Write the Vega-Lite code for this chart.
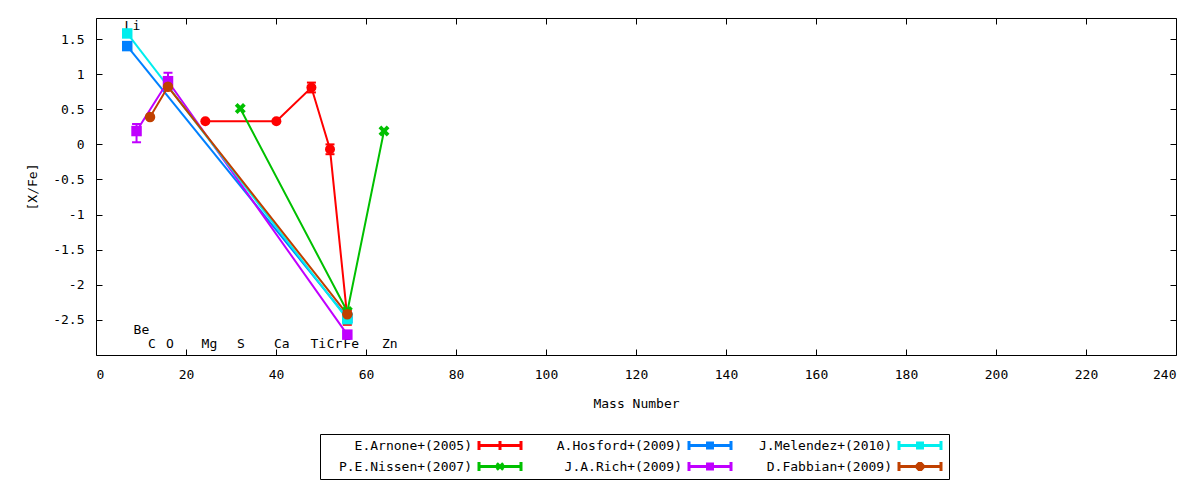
{
  "$schema": "https://vega.github.io/schema/vega-lite/v6.json",
  "width": 1080,
  "height": 337,
  "autosize": {"type": "none"},
  "padding": {"left": 96, "top": 18, "right": 24, "bottom": 125},
  "config": {
    "font": "DejaVu Sans Mono",
    "view": {"stroke": "black", "strokeWidth": 1},
    "axis": {
      "domain": false,
      "grid": false,
      "tickColor": "black",
      "tickSize": -6,
      "labelFont": "DejaVu Sans Mono",
      "labelFontSize": 13,
      "labelColor": "black",
      "titleFont": "DejaVu Sans Mono",
      "titleFontSize": 13,
      "titleFontWeight": "normal",
      "titleColor": "black"
    }
  },
  "datasets": {
    "abund": [
      {"s": "E.Arnone+(2005)", "m": 24.3, "v": 0.33},
      {"s": "E.Arnone+(2005)", "m": 40.08, "v": 0.33},
      {"s": "E.Arnone+(2005)", "m": 47.87, "v": 0.81, "lo": 0.74, "hi": 0.88},
      {"s": "E.Arnone+(2005)", "m": 52.0, "v": -0.07, "lo": -0.14, "hi": 0.0},
      {"s": "E.Arnone+(2005)", "m": 55.85, "v": -2.47, "lo": -2.57, "hi": -2.37},
      {"s": "P.E.Nissen+(2007)", "m": 32.06, "v": 0.51},
      {"s": "P.E.Nissen+(2007)", "m": 55.85, "v": -2.38},
      {"s": "P.E.Nissen+(2007)", "m": 64.0, "v": 0.19},
      {"s": "A.Hosford+(2009)", "m": 6.94, "v": 1.4},
      {"s": "A.Hosford+(2009)", "m": 55.85, "v": -2.47},
      {"s": "J.A.Rich+(2009)", "m": 9.01, "v": 0.19, "lo": 0.03, "hi": 0.29},
      {"s": "J.A.Rich+(2009)", "m": 16.0, "v": 0.9, "lo": 0.78, "hi": 1.02},
      {"s": "J.A.Rich+(2009)", "m": 55.85, "v": -2.71},
      {"s": "J.Melendez+(2010)", "m": 6.94, "v": 1.58},
      {"s": "J.Melendez+(2010)", "m": 55.85, "v": -2.49},
      {"s": "D.Fabbian+(2009)", "m": 12.01, "v": 0.39},
      {"s": "D.Fabbian+(2009)", "m": 16.0, "v": 0.82},
      {"s": "D.Fabbian+(2009)", "m": 55.85, "v": -2.42}
    ],
    "elem": [
      {"el": "Li", "x": 8.1, "y": 1.69},
      {"el": "Be", "x": 10.1, "y": -2.64},
      {"el": "C", "x": 12.4, "y": -2.84},
      {"el": "O", "x": 16.4, "y": -2.84},
      {"el": "Mg", "x": 25.2, "y": -2.84},
      {"el": "S", "x": 32.2, "y": -2.84},
      {"el": "Ca", "x": 41.3, "y": -2.84},
      {"el": "Ti", "x": 49.4, "y": -2.84},
      {"el": "Cr", "x": 53.0, "y": -2.84},
      {"el": "Fe", "x": 56.7, "y": -2.84},
      {"el": "Zn", "x": 65.3, "y": -2.84}
    ]
  },
  "layer": [
    {
      "data": {"name": "elem"},
      "mark": {"type": "text", "font": "DejaVu Sans Mono", "fontSize": 13, "color": "black", "align": "center", "baseline": "middle"},
      "encoding": {
        "x": {
          "field": "x", "type": "quantitative", "title": null,
          "scale": {"domain": [0, 240], "nice": false, "zero": false},
          "axis": {"orient": "top", "labels": false, "values": [0, 20, 40, 60, 80, 100, 120, 140, 160, 180, 200, 220, 240]}
        },
        "y": {
          "field": "y", "type": "quantitative", "title": null,
          "scale": {"domain": [-3, 1.8], "nice": false, "zero": false},
          "axis": {"orient": "right", "labels": false, "values": [-2.5, -2, -1.5, -1, -0.5, 0, 0.5, 1, 1.5]}
        },
        "text": {"field": "el"}
      }
    },
    {
      "data": {"name": "abund"},
      "mark": {"type": "line", "strokeWidth": 2},
      "encoding": {
        "x": {
          "field": "m", "type": "quantitative", "title": "Mass Number",
          "scale": {"domain": [0, 240], "nice": false, "zero": false},
          "axis": {"values": [0, 20, 40, 60, 80, 100, 120, 140, 160, 180, 200, 220, 240], "labelPadding": 19, "titlePadding": 16}
        },
        "y": {
          "field": "v", "type": "quantitative", "title": "[X/Fe]",
          "scale": {"domain": [-3, 1.8], "nice": false, "zero": false},
          "axis": {"values": [-2.5, -2, -1.5, -1, -0.5, 0, 0.5, 1, 1.5], "labelExpr": "'' + datum.value", "labelPadding": 18, "titlePadding": 13}
        },
        "color": {
          "field": "s", "type": "nominal",
          "scale": {
            "domain": ["E.Arnone+(2005)", "A.Hosford+(2009)", "J.Melendez+(2010)", "P.E.Nissen+(2007)", "J.A.Rich+(2009)", "D.Fabbian+(2009)"],
            "range": ["#ff0000", "#0080ff", "#00eeee", "#00c000", "#c000ff", "#c04000"]
          },
          "legend": {
            "title": null,
            "orient": "none",
            "legendX": 224,
            "legendY": 416,
            "columns": 3,
            "direction": "horizontal",
            "strokeColor": "black",
            "padding": 2,
            "cornerRadius": 0,
            "labelFont": "DejaVu Sans Mono",
            "labelFontSize": 13,
            "labelColor": "black",
            "labelAlign": "right",
            "labelOffset": -37.5,
            "symbolOffset": 168.5,
            "symbolType": "M-2.625,0H2.625M-2.625,-0.56V0.56M2.625,-0.56V0.56M-0.31,-0.31H0.31V0.31H-0.31Z",
            "symbolSize": 256,
            "symbolStrokeWidth": 3,
            "rowPadding": 0,
            "columnPadding": 5,
            "encode": {
              "symbols": {
                "update": {
                  "shape": {
                    "signal": "datum.value === 'E.Arnone+(2005)' ? 'M-2.625,0H2.625M-2.625,-0.56V0.56M2.625,-0.56V0.56M0,-0.56V0.56' : datum.value === 'P.E.Nissen+(2007)' ? 'M-2.625,0H2.625M-2.625,-0.56V0.56M2.625,-0.56V0.56M-0.4,-0.4L0.4,0.4M0.4,-0.4L-0.4,0.4' : datum.value === 'D.Fabbian+(2009)' ? 'M-2.625,0H2.625M-2.625,-0.56V0.56M2.625,-0.56V0.56M-0.15,-0.36H0.15L0.36,-0.15V0.15L0.15,0.36H-0.15L-0.36,0.15V-0.15Z' : 'M-2.625,0H2.625M-2.625,-0.56V0.56M2.625,-0.56V0.56M-0.31,-0.31H0.31V0.31H-0.31Z'"
                  }
                }
              }
            }
          }
        }
      }
    },
    {
      "data": {"name": "abund"},
      "transform": [{"filter": "isValid(datum.lo)"}],
      "mark": {"type": "rule", "strokeWidth": 2},
      "encoding": {
        "x": {"field": "m", "type": "quantitative", "scale": {"domain": [0, 240], "nice": false, "zero": false}, "axis": null},
        "y": {"field": "lo", "type": "quantitative", "scale": {"domain": [-3, 1.8], "nice": false, "zero": false}, "axis": null},
        "y2": {"field": "hi"},
        "stroke": {
          "field": "s", "type": "nominal", "legend": null,
          "scale": {
            "domain": ["E.Arnone+(2005)", "A.Hosford+(2009)", "J.Melendez+(2010)", "P.E.Nissen+(2007)", "J.A.Rich+(2009)", "D.Fabbian+(2009)"],
            "range": ["#ff0000", "#0080ff", "#00eeee", "#00c000", "#c000ff", "#c04000"]
          }
        }
      }
    },
    {
      "data": {"name": "abund"},
      "transform": [{"filter": "isValid(datum.lo)"}],
      "mark": {"type": "point", "shape": "M-1,0H1", "filled": false, "opacity": 1, "strokeWidth": 2, "size": 81},
      "encoding": {
        "x": {"field": "m", "type": "quantitative", "scale": {"domain": [0, 240], "nice": false, "zero": false}, "axis": null},
        "y": {"field": "lo", "type": "quantitative", "scale": {"domain": [-3, 1.8], "nice": false, "zero": false}, "axis": null},
        "stroke": {"field": "s", "type": "nominal", "legend": null}
      }
    },
    {
      "data": {"name": "abund"},
      "transform": [{"filter": "isValid(datum.hi)"}],
      "mark": {"type": "point", "shape": "M-1,0H1", "filled": false, "opacity": 1, "strokeWidth": 2, "size": 81},
      "encoding": {
        "x": {"field": "m", "type": "quantitative", "scale": {"domain": [0, 240], "nice": false, "zero": false}, "axis": null},
        "y": {"field": "hi", "type": "quantitative", "scale": {"domain": [-3, 1.8], "nice": false, "zero": false}, "axis": null},
        "stroke": {"field": "s", "type": "nominal", "legend": null}
      }
    },
    {
      "data": {"name": "abund"},
      "transform": [{"filter": {"field": "s", "equal": "E.Arnone+(2005)"}}],
      "mark": {"type": "point", "shape": "circle", "filled": true, "opacity": 1, "size": 100},
      "encoding": {
        "x": {"field": "m", "type": "quantitative", "scale": {"domain": [0, 240], "nice": false, "zero": false}, "axis": null},
        "y": {"field": "v", "type": "quantitative", "scale": {"domain": [-3, 1.8], "nice": false, "zero": false}, "axis": null},
        "fill": {
          "field": "s", "type": "nominal", "legend": null,
          "scale": {
            "domain": ["E.Arnone+(2005)", "A.Hosford+(2009)", "J.Melendez+(2010)", "P.E.Nissen+(2007)", "J.A.Rich+(2009)", "D.Fabbian+(2009)"],
            "range": ["#ff0000", "#0080ff", "#00eeee", "#00c000", "#c000ff", "#c04000"]
          }
        }
      }
    },
    {
      "data": {"name": "abund"},
      "transform": [{"filter": {"field": "s", "equal": "P.E.Nissen+(2007)"}}],
      "mark": {"type": "point", "shape": "M-1,-0.5L-0.5,-1L0,-0.5L0.5,-1L1,-0.5L0.5,0L1,0.5L0.5,1L0,0.5L-0.5,1L-1,0.5L-0.5,0Z", "filled": true, "opacity": 1, "size": 120},
      "encoding": {
        "x": {"field": "m", "type": "quantitative", "scale": {"domain": [0, 240], "nice": false, "zero": false}, "axis": null},
        "y": {"field": "v", "type": "quantitative", "scale": {"domain": [-3, 1.8], "nice": false, "zero": false}, "axis": null},
        "fill": {"field": "s", "type": "nominal", "legend": null}
      }
    },
    {
      "data": {"name": "abund"},
      "transform": [{"filter": {"field": "s", "oneOf": ["A.Hosford+(2009)", "J.A.Rich+(2009)", "J.Melendez+(2010)"]}}],
      "mark": {"type": "point", "shape": "square", "filled": true, "opacity": 1, "size": 110},
      "encoding": {
        "x": {"field": "m", "type": "quantitative", "scale": {"domain": [0, 240], "nice": false, "zero": false}, "axis": null},
        "y": {"field": "v", "type": "quantitative", "scale": {"domain": [-3, 1.8], "nice": false, "zero": false}, "axis": null},
        "fill": {"field": "s", "type": "nominal", "legend": null}
      }
    },
    {
      "data": {"name": "abund"},
      "transform": [{"filter": {"field": "s", "equal": "D.Fabbian+(2009)"}}],
      "mark": {"type": "point", "shape": "circle", "filled": true, "opacity": 1, "size": 110},
      "encoding": {
        "x": {"field": "m", "type": "quantitative", "scale": {"domain": [0, 240], "nice": false, "zero": false}, "axis": null},
        "y": {"field": "v", "type": "quantitative", "scale": {"domain": [-3, 1.8], "nice": false, "zero": false}, "axis": null},
        "fill": {"field": "s", "type": "nominal", "legend": null}
      }
    }
  ],
  "resolve": {"axis": {"x": "independent", "y": "independent"}}
}
